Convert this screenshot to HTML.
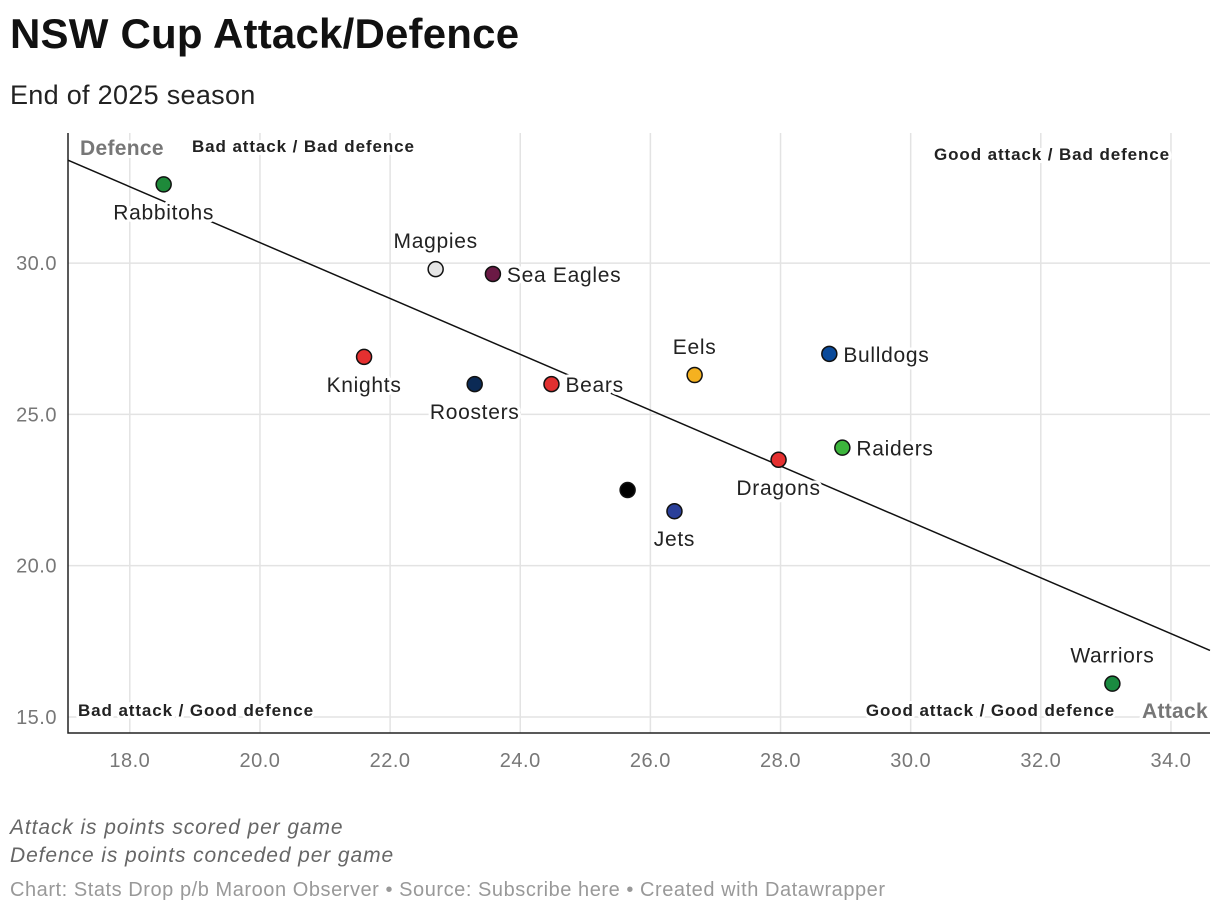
<!DOCTYPE html>
<html><head><meta charset="utf-8"><style>
body{margin:0;background:#fff;font-family:"Liberation Sans",Arial,sans-serif;}
.wrap{position:relative;width:1220px;height:916px;overflow:hidden}
h1{position:absolute;left:10px;top:10px;margin:0;font-size:42px;font-weight:bold;color:#111;letter-spacing:0.2px}
.sub{position:absolute;left:10px;top:80px;font-size:27px;color:#222;letter-spacing:0.3px}
.note{position:absolute;left:10px;font-size:21px;font-style:italic;color:#666;letter-spacing:0.9px}
.src{position:absolute;left:10px;top:879px;font-size:20px;color:#999;letter-spacing:0.55px}
</style></head><body><div class="wrap">
<h1>NSW Cup Attack/Defence</h1>
<div class="sub">End of 2025 season</div>
<svg id="plot" width="1220" height="916" style="position:absolute;left:0;top:0"></svg>
<div class="note" style="top:816px">Attack is points scored per game</div>
<div class="note" style="top:844px">Defence is points conceded per game</div>
<div class="src">Chart: Stats Drop p/b Maroon Observer • Source: Subscribe here • Created with Datawrapper</div>
</div>
<script>
const teams=["Rabbitohs","Magpies","Sea Eagles","Knights","Roosters","Bears","Eels","Bulldogs","Raiders","Dragons","","Jets","Warriors"];
const attack=[18.52,22.7,23.58,21.6,23.3,24.48,26.68,28.75,28.95,27.97,25.65,26.37,33.1];
const defence=[32.6,29.8,29.64,26.9,26.0,26.0,26.3,27.0,23.9,23.5,22.5,21.8,16.1];
const colors=["#1e8a3a","#e6e6e6","#6b1a45","#e53030","#0b2a55","#e03030","#f5b120","#0a4a9a","#3cb53c","#e53030","#000000","#2a3f99","#1a8a40"];
const labelPos=["below","above","right","below","below","right","above","right","right","below","none","below","above"];
const xTicks=[18,20,22,24,26,28,30,32,34];
const yTicks=[15,20,25,30];
const trendX=[17.05,34.6];
const trendY=[33.4,17.2];
const X0=17.05,X1=34.6,Y0=14.47,Y1=34.3;
const L=68,R=1210,T=133,B=733;
const sx=v=>L+(v-X0)/(X1-X0)*(R-L);
const sy=v=>B-(v-Y0)/(Y1-Y0)*(B-T);
const svg=document.getElementById('plot');
const NS="http://www.w3.org/2000/svg";
function mk(t,a,p){const e=document.createElementNS(NS,t);for(const k in a)e.setAttribute(k,a[k]);(p||svg).appendChild(e);return e;}
xTicks.forEach(v=>{
 const l=mk('line',{x1:sx(v),x2:sx(v),y1:T,y2:B,stroke:'#e3e3e3','stroke-width':1.5});
 
 
 const t=mk('text',{x:sx(v),y:767,'text-anchor':'middle','font-size':20,fill:'#777','letter-spacing':0.5});
 t.textContent=v.toFixed(1);
 
 
});
yTicks.forEach(v=>{
 const l=mk('line',{x1:L,x2:R,y1:sy(v),y2:sy(v),stroke:'#e3e3e3','stroke-width':1.5});
 
 
 const t=mk('text',{x:57,y:sy(v)+7,'text-anchor':'end','font-size':20,fill:'#777','letter-spacing':0.5});
 t.textContent=v.toFixed(1);
 
 
});
const ax=mk('path',{d:`M${L} ${T} V${B} H${R}`,fill:'none',stroke:'#222','stroke-width':1.5});


const tl=mk('line',{x1:sx(trendX[0]),y1:sy(trendY[0]),x2:sx(trendX[1]),y2:sy(trendY[1]),stroke:'#111','stroke-width':1.5});


function lbl(txt,x,y,anchor,size,weight,fill,name,ls){
 const t=mk('text',{x:x,y:y,'text-anchor':anchor,'font-size':size,'font-weight':weight,fill:fill,stroke:'#fff','stroke-width':6,'paint-order':'stroke','stroke-linejoin':'round','letter-spacing':ls});
 t.textContent=txt;
 
 
}
lbl('Defence',80,155,'start',21,'bold','#777','y-axis-title',0.3);
lbl('Attack',1208,718,'end',21,'bold','#777','x-axis-title',0.3);
lbl('Bad attack / Bad defence',192,152,'start',17,'bold','#222','quadrant-top-left',0.9);
lbl('Good attack / Bad defence',1170,160,'end',17,'bold','#222','quadrant-top-right',0.9);
lbl('Bad attack / Good defence',78,716,'start',17,'bold','#222','quadrant-bottom-left',0.9);
lbl('Good attack / Good defence',1115,716,'end',17,'bold','#222','quadrant-bottom-right',0.9);
teams.forEach((n,i)=>{
 const cx=sx(attack[i]),cy=sy(defence[i]);
 const c=mk('circle',{cx:cx,cy:cy,r:7.5,fill:colors[i],stroke:'#111','stroke-width':1.5});
 
 
 const p=labelPos[i];
 if(p==='none')return;
 let x=cx,y=cy,a='middle';
 if(p==='above')y=cy-21;
 else if(p==='below')y=cy+35;
 else {x=cx+14;y=cy+8;a='start';}
 lbl(n,x,y,a,21,'normal','#222','team-label',0.7);
});
</script></body></html>
